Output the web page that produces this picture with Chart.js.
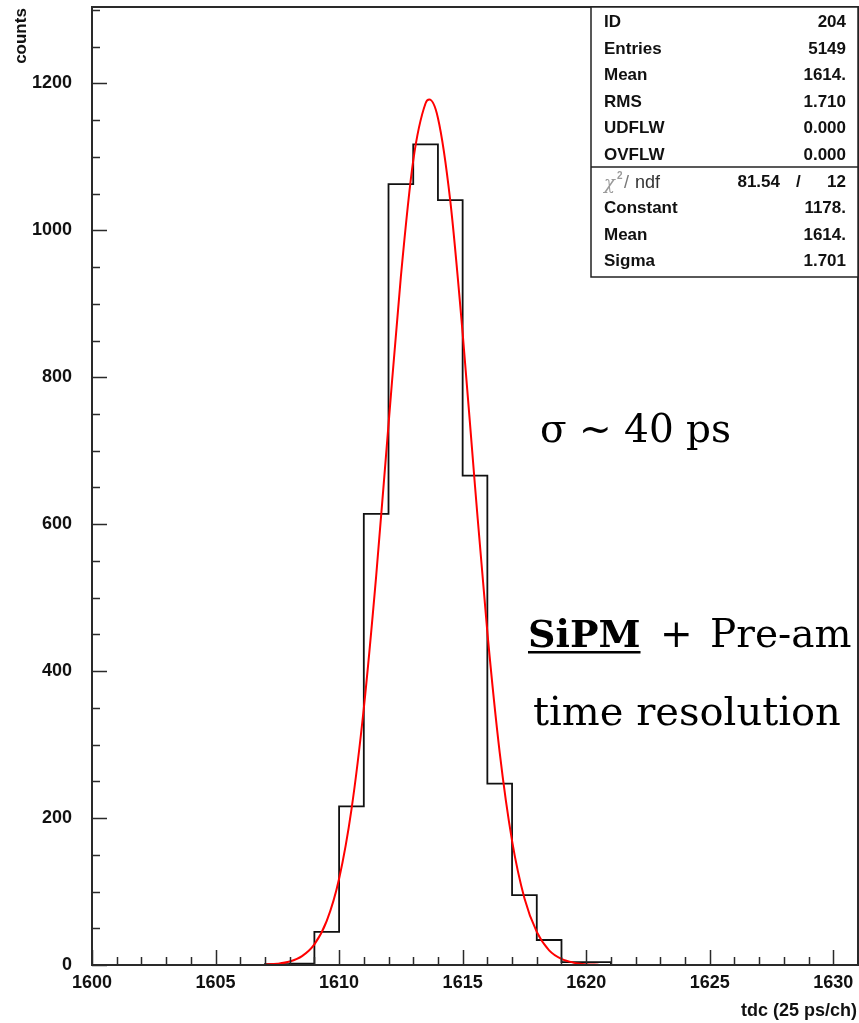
<!DOCTYPE html>
<html>
<head>
<meta charset="utf-8">
<script src="https://cdn.jsdelivr.net/npm/chart.js@4.4.1/dist/chart.umd.min.js"></script>
<style>
  html, body { margin: 0; padding: 0; background: #fff; }
  #wrap { width: 859px; height: 1023px; }
</style>
</head>
<body>
<div id="wrap"><canvas id="tdcChart" width="859" height="1023"></canvas></div>
<script>
// tdc histogram, 1 channel wide bins (lower edge)
const binLow = [1607, 1608, 1609, 1610, 1611, 1612, 1613, 1614, 1615, 1616, 1617, 1618, 1619, 1620];
const binCounts = [1, 2, 45, 216, 614, 1063, 1117, 1041, 666, 247, 95, 34, 4, 4];

// gaussian fit curve
const fitX = [1607, 1607.5, 1608, 1608.5, 1609, 1609.5, 1610, 1610.5, 1611, 1611.5, 1612, 1612.5, 1613, 1613.5,
              1613.65, 1614, 1614.5, 1615, 1615.5, 1616, 1616.5, 1617, 1617.5, 1618, 1618.5, 1619, 1619.5, 1620, 1620.5];
const fitY = [0.6, 1.7, 4.7, 12, 28, 60, 117.5, 211.6, 349.5, 529.4, 735.6, 937.1, 1095, 1173,
              1178, 1153, 1040, 860, 652, 453, 289, 169, 91, 45, 20, 8.3, 3.2, 1.1, 0.4];

const xTickVals = [1600, 1605, 1610, 1615, 1620, 1625, 1630];
const yTickVals = [0, 200, 400, 600, 800, 1000, 1200];

// stats box
const statLabels = ['ID', 'Entries', 'Mean', 'RMS', 'UDFLW', 'OVFLW'];
const statValues = ['204', '5149', '1614.', '1.710', '0.000', '0.000'];
const chi2 = '81.54';
const ndf = '12';
const fitLabels = ['Constant', 'Mean', 'Sigma'];
const fitValues = ['1178.', '1614.', '1.701'];

const SANS = "'Liberation Sans', Arial, sans-serif";
const SERIF = "'DejaVu Serif', serif";

// build histogram outline points for a stepped line
const histPoints = [{ x: binLow[0], y: 0 }];
binLow.forEach((lo, i) => histPoints.push({ x: lo, y: binCounts[i] }));
histPoints.push({ x: binLow[binLow.length - 1] + 1, y: 0 });

const fitPoints = fitX.map((x, i) => ({ x: x, y: fitY[i] }));

// no extra label padding, the frame is fixed
function noPad(scale) {
    scale.paddingTop = 0;
    scale.paddingBottom = 0;
    scale.paddingLeft = 0;
    scale.paddingRight = 0;
}

// frame + inward tick marks like the PAW plot
const framePlugin = {
    id: 'frame',
    afterDatasetsDraw(chart) {
        const ctx = chart.ctx;
        const area = chart.chartArea;
        const xs = chart.scales.x;
        const ys = chart.scales.y;
        ctx.save();
        ctx.strokeStyle = '#2a2a2a';
        ctx.lineWidth = 2;
        ctx.strokeRect(area.left, area.top, area.right - area.left, area.bottom - area.top);

        ctx.lineWidth = 1.5;
        ctx.beginPath();
        for (let v = xs.min; v <= xs.max; v += 1) {
            const px = Math.round(xs.getPixelForValue(v)) + 0.5;
            const len = (v % 5 === 0) ? 15 : 8;
            ctx.moveTo(px, area.bottom);
            ctx.lineTo(px, area.bottom - len);
        }
        for (let v = 0; v <= ys.max; v += 50) {
            const py = Math.round(ys.getPixelForValue(v)) + 0.5;
            const len = (v % 200 === 0) ? 15 : 8;
            ctx.moveTo(area.left, py);
            ctx.lineTo(area.left + len, py);
        }
        ctx.stroke();
        ctx.restore();
    },
    afterDraw(chart) {
        const ctx = chart.ctx;
        const area = chart.chartArea;
        ctx.save();

        // y axis title
        ctx.fillStyle = '#111';
        ctx.font = 'bold 17px ' + SANS;
        ctx.translate(26, 36);
        ctx.rotate(-Math.PI / 2);
        ctx.textAlign = 'center';
        ctx.textBaseline = 'alphabetic';
        ctx.fillText('counts', 0, 0);
        ctx.setTransform(1, 0, 0, 1, 0, 0);

        // x axis title
        ctx.font = 'bold 18px ' + SANS;
        ctx.textAlign = 'right';
        ctx.fillText('tdc (25 ps/ch)', 857, 1016);

        // stats box
        const bx = 591, by = area.top, br = area.right, bb = 277;
        ctx.fillStyle = '#fff';
        ctx.fillRect(bx, by, br - bx, bb - by);
        ctx.strokeStyle = '#222';
        ctx.lineWidth = 1.5;
        ctx.strokeRect(bx, by, br - bx, bb - by);
        ctx.beginPath();
        ctx.moveTo(bx, 167);
        ctx.lineTo(br, 167);
        ctx.stroke();

        ctx.fillStyle = '#111';
        ctx.font = 'bold 17px ' + SANS;
        statLabels.forEach((lab, i) => {
            const yy = 27 + i * 26.6;
            ctx.textAlign = 'left';
            ctx.fillText(lab, 604, yy);
            ctx.textAlign = 'right';
            ctx.fillText(statValues[i], 846, yy);
        });
        fitLabels.forEach((lab, i) => {
            const yy = 213 + i * 26.6;
            ctx.textAlign = 'left';
            ctx.fillText(lab, 604, yy);
            ctx.textAlign = 'right';
            ctx.fillText(fitValues[i], 846, yy);
        });

        // chi2 / ndf row
        ctx.textAlign = 'left';
        ctx.fillStyle = '#9a9a9a';
        ctx.font = 'italic 18px ' + SERIF;
        ctx.fillText('\u03c7', 604, 189);
        ctx.font = 'bold 10px ' + SANS;
        ctx.fillText('2', 617, 179);
        ctx.font = '18px ' + SANS;
        ctx.fillStyle = '#777';
        ctx.fillText('/', 624, 188);
        ctx.fillStyle = '#333';
        ctx.fillText('ndf', 635, 188);
        ctx.fillStyle = '#111';
        ctx.font = 'bold 17px ' + SANS;
        ctx.textAlign = 'right';
        ctx.fillText(chi2, 780, 187);
        ctx.textAlign = 'left';
        ctx.fillText('/', 796, 187);
        ctx.textAlign = 'right';
        ctx.fillText(ndf, 846, 187);

        // annotations
        ctx.fillStyle = '#000';
        ctx.textAlign = 'left';
        ctx.font = '39px ' + SERIF;
        ctx.fillText('\u03c3 ~ 40 ps', 540, 442);
        ctx.font = 'bold 38px ' + SERIF;
        ctx.fillText('SiPM', 528, 647);
        const w = ctx.measureText('SiPM').width;
        ctx.fillRect(528, 651, w, 2.5);
        ctx.font = '39px ' + SERIF;
        ctx.fillText('+', 660, 647);
        ctx.fillText('Pre-am', 710, 647);
        ctx.font = '40px ' + SERIF;
        ctx.fillText('time resolution', 533, 725);

        ctx.restore();
    }
};

const ctx = document.getElementById('tdcChart').getContext('2d');
new Chart(ctx, {
    type: 'scatter',
    data: {
        datasets: [
            {
                label: 'gaus fit',
                data: fitPoints,
                showLine: true,
                borderColor: '#ff0000',
                borderWidth: 2,
                pointRadius: 0,
                cubicInterpolationMode: 'monotone',
                order: 0
            },
            {
                label: 'tdc',
                data: histPoints,
                showLine: true,
                stepped: 'before',
                borderColor: '#111',
                borderWidth: 1.8,
                pointRadius: 0,
                order: 1
            }
        ]
    },
    options: {
        responsive: false,
        animation: false,
        events: [],
        layout: { padding: { left: 0, right: 1, top: 7, bottom: 0 } },
        plugins: {
            legend: { display: false },
            tooltip: { enabled: false }
        },
        scales: {
            x: {
                type: 'linear',
                min: 1600,
                max: 1631,
                grid: { display: false, drawTicks: false },
                border: { display: false },
                ticks: {
                    font: { family: SANS, size: 18, weight: 'bold' },
                    color: '#111',
                    padding: 7,
                    maxRotation: 0,
                    autoSkip: false,
                    callback: v => String(v)
                },
                afterBuildTicks: scale => { scale.ticks = xTickVals.map(v => ({ value: v })); },
                afterFit: scale => { scale.height = 58; noPad(scale); }
            },
            y: {
                type: 'linear',
                min: 0,
                max: 1304,
                grid: { display: false, drawTicks: false },
                border: { display: false },
                ticks: {
                    font: { family: SANS, size: 18, weight: 'bold' },
                    color: '#111',
                    padding: 20,
                    autoSkip: false,
                    callback: v => String(v)
                },
                afterBuildTicks: scale => { scale.ticks = yTickVals.map(v => ({ value: v })); },
                afterFit: scale => { scale.width = 92; noPad(scale); }
            }
        }
    },
    plugins: [framePlugin]
});
</script>
</body>
</html>
